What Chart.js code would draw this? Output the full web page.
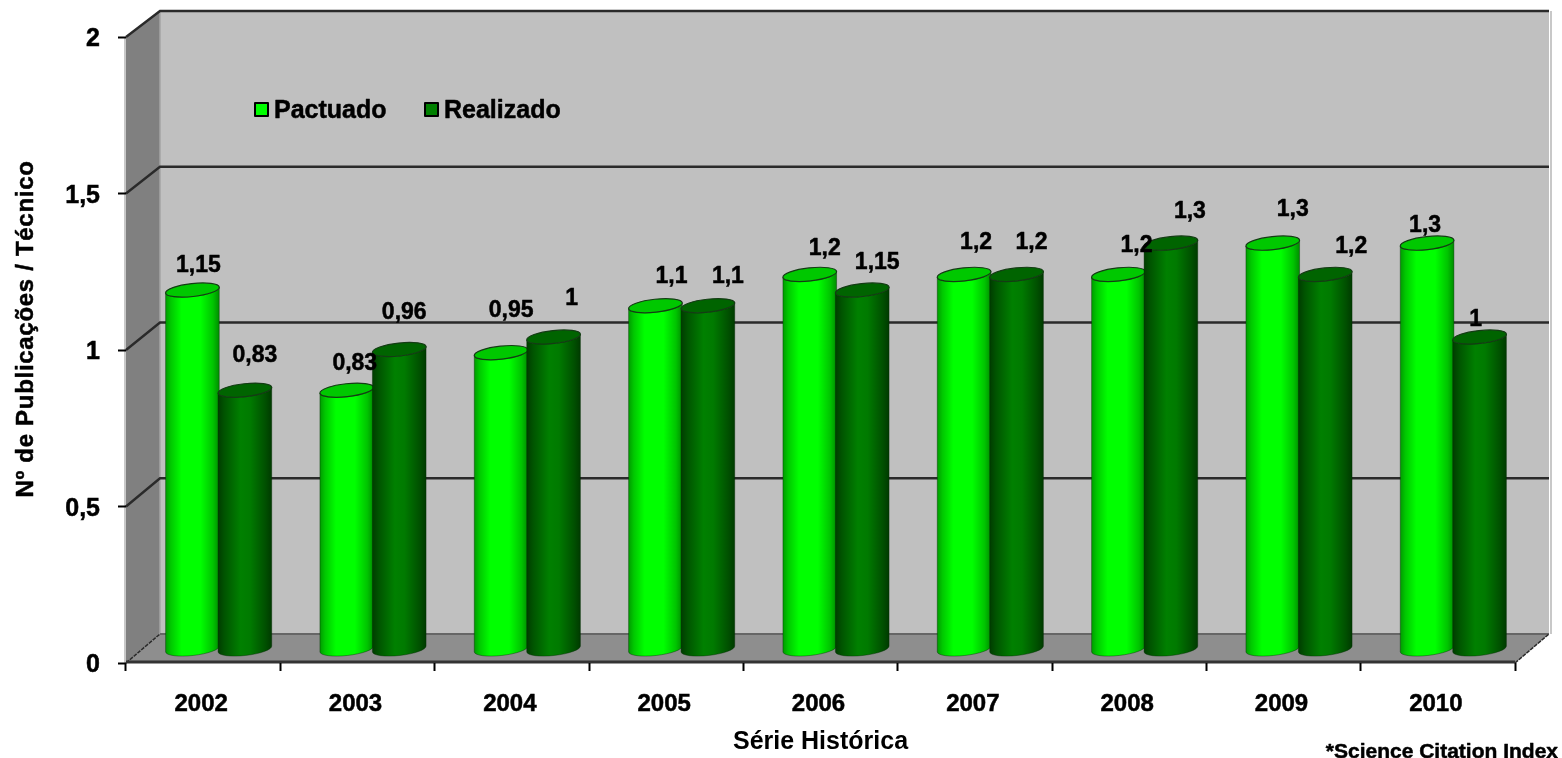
<!DOCTYPE html>
<html><head><meta charset="utf-8">
<style>html,body{margin:0;padding:0;background:#fff;overflow:hidden}#w{position:absolute;left:0;top:0;width:1562px;height:758px}</style>
<script src="https://cdn.jsdelivr.net/npm/chart.js@4"></script>
</head><body><div id="w"><canvas id="c" width="1562" height="758"></canvas></div>
<script>
const years = ['2002','2003','2004','2005','2006','2007','2008','2009','2010'];
const pactuado = [1.15,0.83,0.95,1.1,1.2,1.2,1.2,1.3,1.3];
const realizado = [0.83,0.96,1,1.1,1.15,1.2,1.3,1.2,1];
const yTicks = [0,0.5,1,1.5,2];
const seriesNames = ['Pactuado','Realizado'];
const xTitle = 'Série Histórica';
const yTitle = 'Nº de Publicações / Técnico';
const footnote = '*Science Citation Index';

// label nudges from each cylinder's top, matching the hand-placed labels
const nudgeP = [[6,-24],[8,-27],[10,-42],[16,-29],[15,-26],[12,-32],[18,-29],[20,-33],[-2,-17]];
const nudgeR = [[10,-35],[5,-37],[18,-38],[20,-29],[15,-27],[15,-32],[19,-31],[26,-28],[-4,-17]];

const FONT = '"Liberation Sans", Arial, sans-serif';
const fmt = v => String(v).replace('.', ',');
const DX = 34, DY = 29, BACK = 623/626;
const BAR_DX = 15.5, BAR_DY = -13, TILT = 6.3*Math.PI/180, RY = 6.5;

function gridBack(y, v){ const z=y.getPixelForValue(0); return z-DY+(y.getPixelForValue(v)-z)*BACK; }

const styles = [
  {stops:[[0,'#009a00'],[.1,'#00c800'],[.3,'#00ff00'],[.65,'#00ff00'],[.88,'#00c400'],[1,'#008c00']], cap:'#00c800'},
  {stops:[[0,'#003c00'],[.12,'#005400'],[.42,'#008000'],[.6,'#007a00'],[.88,'#005000'],[1,'#003a00']], cap:'#006400'}
];

function cylinder(ctx, el, st){
  const p = el.getProps(['x','y','base','width'], true);
  const cx = p.x+BAR_DX, top = p.y+BAR_DY, base = p.base+BAR_DY-0.5, r = p.width/2+0.75;
  const ca = Math.cos(TILT)*r, sa = Math.sin(TILT)*r;
  const g = ctx.createLinearGradient(cx-r,0,cx+r,0);
  st.stops.forEach(s=>g.addColorStop(s[0],s[1]));
  ctx.beginPath();
  ctx.moveTo(cx-ca, top+sa);
  ctx.lineTo(cx-ca, base+sa);
  ctx.ellipse(cx, base, r, RY, -TILT, Math.PI, 0, true);
  ctx.lineTo(cx+ca, top-sa);
  ctx.ellipse(cx, top, r, RY, -TILT, 0, Math.PI, false);
  ctx.closePath();
  ctx.fillStyle = g; ctx.fill();
  ctx.strokeStyle = 'rgba(0,40,0,.4)'; ctx.lineWidth = 1; ctx.stroke();
  ctx.beginPath();
  ctx.ellipse(cx, top, r, RY, -TILT, 0, Math.PI*2);
  ctx.fillStyle = st.cap; ctx.fill();
  ctx.strokeStyle = '#143c14'; ctx.lineWidth = 1.2; ctx.stroke();
}

function boldText(ctx, s, x, y){
  ctx.strokeStyle='#000';ctx.lineWidth=0.5;ctx.lineJoin='round';
  ctx.fillText(s,x,y);ctx.strokeText(s,x,y);
}

const scene = {
  id:'scene',
  beforeDraw(chart){
    const {ctx, scales:{x,y}} = chart;
    const L=x.left, R=x.right, z=y.getPixelForValue(0), t=y.getPixelForValue(2);
    const bz=gridBack(y,0), bt=gridBack(y,2);
    ctx.save();
    ctx.fillStyle='#c0c0c0'; ctx.fillRect(L+DX,bt,R-L,bz-bt);
    ctx.fillStyle='#808080';
    ctx.beginPath();ctx.moveTo(L,t);ctx.lineTo(L+DX,bt);ctx.lineTo(L+DX,bz);ctx.lineTo(L,z);ctx.closePath();ctx.fill();
    ctx.fillStyle='#8e8e8e';
    ctx.beginPath();ctx.moveTo(L,z);ctx.lineTo(L+DX,bz);ctx.lineTo(R+DX,bz);ctx.lineTo(R,z);ctx.closePath();ctx.fill();
    ctx.strokeStyle='#c8c8c8';ctx.lineWidth=2;
    ctx.beginPath();ctx.moveTo(L-1,t);ctx.lineTo(L-1,z);ctx.moveTo(R+DX+2,bt);ctx.lineTo(R+DX+2,bz);ctx.stroke();
    ctx.strokeStyle='#a4a4a4';ctx.lineWidth=1.5;
    ctx.beginPath();ctx.moveTo(L+DX,bt);ctx.lineTo(L+DX,bz);ctx.stroke();
    ctx.strokeStyle='#666';ctx.lineWidth=2;
    ctx.beginPath();ctx.moveTo(L+DX,bz);ctx.lineTo(R+DX,bz);ctx.stroke();
    ctx.strokeStyle='#2a2a2a';ctx.lineWidth=2.4;
    yTicks.filter(v=>v>0).forEach(v=>{
      const by=gridBack(y,v);
      ctx.beginPath();ctx.moveTo(L,y.getPixelForValue(v));ctx.lineTo(L+DX,by);ctx.lineTo(R+DX,by);ctx.stroke();
    });
    ctx.lineWidth=1.5;ctx.setLineDash([4,1]);
    ctx.beginPath();ctx.moveTo(L,z);ctx.lineTo(L+DX,bz);ctx.moveTo(R,z);ctx.lineTo(R+DX,bz);ctx.stroke();
    ctx.setLineDash([]);
    ctx.strokeStyle='#333';ctx.lineWidth=3;
    ctx.beginPath();ctx.moveTo(L,z-1);ctx.lineTo(R,z-1);ctx.stroke();
    ctx.restore();
  },
  afterDatasetsDraw(chart){
    const {ctx}=chart;
    const m0=chart.getDatasetMeta(0).data, m1=chart.getDatasetMeta(1).data;
    ctx.save();
    m0.forEach((el,i)=>{ cylinder(ctx,el,styles[0]); cylinder(ctx,m1[i],styles[1]); });
    ctx.font='bold 23px '+FONT; ctx.fillStyle='#000';ctx.textAlign='center';ctx.textBaseline='middle';
    [[m0,pactuado,nudgeP],[m1,realizado,nudgeR]].forEach(([m,vals,nu])=>{
      m.forEach((el,i)=>{
        const p=el.getProps(['x','y'],true);
        boldText(ctx,fmt(vals[i]),p.x+BAR_DX+nu[i][0],p.y+BAR_DY+nu[i][1]);
      });
    });
    // legend
    const lx=[254,424];
    seriesNames.forEach((n,i)=>{
      ctx.fillStyle=['#00ff00','#008000'][i];ctx.strokeStyle='#000';ctx.lineWidth=2;
      ctx.beginPath();ctx.rect(lx[i]+1,103,13,13);ctx.fill();ctx.stroke();
      ctx.fillStyle='#000';ctx.textAlign='left';ctx.font='bold 25px '+FONT;
      boldText(ctx,n,lx[i]+20,111);
    });
    // rotated axis title
    ctx.save();
    ctx.translate(26,329);ctx.rotate(-Math.PI/2);
    ctx.textAlign='center';
    ctx.font='bold 24px '+FONT;ctx.letterSpacing='0.7px';ctx.fillStyle='#000';
    boldText(ctx,yTitle,0,0);
    ctx.restore();
    ctx.font='bold 21px '+FONT;ctx.textAlign='right';ctx.textBaseline='middle';ctx.fillStyle='#000';
    boldText(ctx,footnote,1558,752);
    ctx.restore();
  }
};

const tickFont = {family:FONT,size:24,weight:'bold'};
new Chart(document.getElementById('c'),{
  type:'bar',
  plugins:[scene],
  data:{labels:years,datasets:[
    {label:seriesNames[0],data:pactuado,backgroundColor:'rgba(0,0,0,0)',borderWidth:0},
    {label:seriesNames[1],data:realizado,backgroundColor:'rgba(0,0,0,0)',borderWidth:0}
  ]},
  options:{
    responsive:false,animation:false,
    layout:{padding:{top:37,right:47,left:0,bottom:0}},
    datasets:{bar:{categoryPercentage:0.68,barPercentage:1}},
    plugins:{tooltip:{enabled:false},legend:{display:false}},
    scales:{
      x:{
        afterFit(s){s.height=95;},
        grid:{drawOnChartArea:false,drawTicks:true,tickLength:8,tickColor:'#000',tickWidth:2,offset:true},
        border:{display:false},
        ticks:{color:'#000',padding:19,labelOffset:-2,maxRotation:0,font:tickFont,textStrokeColor:'#000',textStrokeWidth:0.5},
        title:{display:true,text:xTitle,color:'#000',font:{family:FONT,size:25,weight:'bold'},padding:{top:0,bottom:1}}
      },
      y:{
        min:0,max:2,
        afterFit(s){s.width=126;},
        afterBuildTicks(s){s.ticks=yTicks.map(v=>({value:v}));},
        grid:{drawOnChartArea:false,drawTicks:true,tickLength:8,tickColor:'#000',tickWidth:2},
        border:{display:false},
        ticks:{color:'#000',padding:18,labelOffset:2.5,callback:v=>fmt(v),font:{family:FONT,size:25,weight:'bold'},textStrokeColor:'#000',textStrokeWidth:0.5}
      }
    }
  }
});
</script></body></html>
